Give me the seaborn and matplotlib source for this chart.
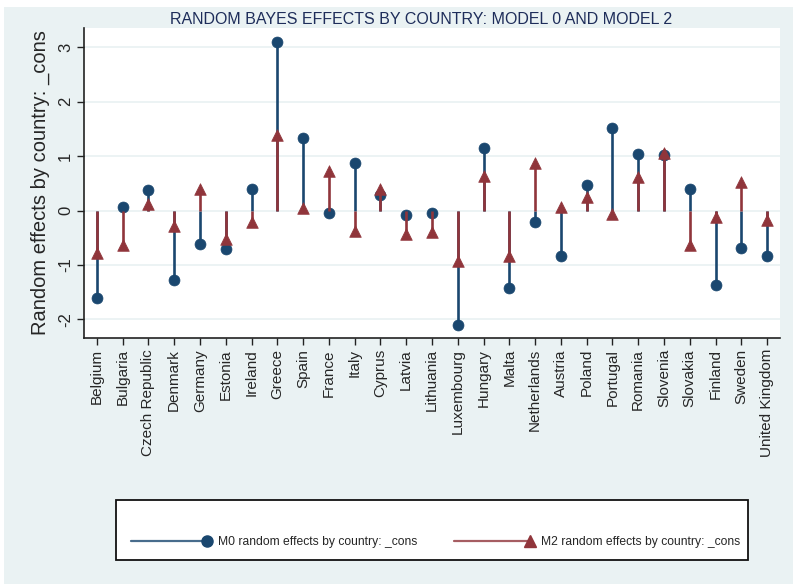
import matplotlib
matplotlib.use("Agg")
import matplotlib.pyplot as plt
import seaborn as sns
import pandas as pd
import numpy as np
from matplotlib.lines import Line2D
from matplotlib.patches import Rectangle
from matplotlib.legend_handler import HandlerLine2D

countries = ["Belgium", "Bulgaria", "Czech Republic", "Denmark", "Germany", "Estonia",
             "Ireland", "Greece", "Spain", "France", "Italy", "Cyprus", "Latvia",
             "Lithuania", "Luxembourg", "Hungary", "Malta", "Netherlands", "Austria",
             "Poland", "Portugal", "Romania", "Slovenia", "Slovakia", "Finland",
             "Sweden", "United Kingdom"]
m0_values = [-1.60, 0.07, 0.38, -1.27, -0.61, -0.71, 0.40, 3.10, 1.33, -0.04, 0.88,
             0.28, -0.09, -0.04, -2.10, 1.14, -1.42, -0.21, -0.84, 0.46, 1.51, 1.03,
             1.02, 0.39, -1.36, -0.68, -0.84]
m2_values = [-0.78, -0.64, 0.12, -0.28, 0.39, -0.52, -0.21, 1.38, 0.04, 0.72, -0.37,
             0.40, -0.43, -0.40, -0.92, 0.64, -0.83, 0.87, 0.06, 0.24, -0.06, 0.62,
             1.05, -0.64, -0.12, 0.53, -0.18]
y_ticks = [-2, -1, 0, 1, 2, 3]
label_m0 = "M0 random effects by country: _cons"
label_m2 = "M2 random effects by country: _cons"

NAVY = "#1A476F"
MAROON = "#90353B"
BG = "#EAF2F3"

sns.set_style("white")
plt.rcParams["font.family"] = ["Liberation Sans", "DejaVu Sans"]

df = pd.DataFrame({"country": countries, "m0": m0_values, "m2": m2_values})
df["pos"] = np.arange(len(df))


class EndMarkerHandler(HandlerLine2D):
    def create_artists(self, legend, orig_handle, xdescent, ydescent, width, height,
                       fontsize, trans):
        yc = height / 2 - ydescent
        line = Line2D([-xdescent, width - xdescent], [yc, yc],
                      color=orig_handle.get_color(), linewidth=orig_handle.get_linewidth(),
                      alpha=0.8)
        mk = Line2D([width - xdescent], [yc], linestyle="None",
                    marker=orig_handle.get_marker(), markersize=orig_handle.get_markersize(),
                    color=orig_handle.get_color())
        line.set_transform(trans)
        mk.set_transform(trans)
        return [line, mk]


fig = plt.figure(figsize=(7.93, 5.84), dpi=100, facecolor="white")
fig.patches.append(Rectangle((4 / 793, 0), 1, 1 - 7 / 584, transform=fig.transFigure,
                             facecolor=BG, edgecolor="none", zorder=-10))
ax = fig.add_axes([84 / 793, 1 - 338 / 584, (780 - 84) / 793, (338 - 28) / 584])
ax.set_facecolor("white")

# stems and markers
ax.vlines(df["pos"], 0, df["m0"], color=NAVY, linewidth=1.9, zorder=2)
sns.scatterplot(data=df, x="pos", y="m0", ax=ax, color=NAVY, marker="o", s=62,
                edgecolor=NAVY, linewidth=0.5, zorder=3, legend=False)
ax.vlines(df["pos"], 0, df["m2"], color=MAROON, linewidth=1.9, zorder=4)
sns.scatterplot(data=df, x="pos", y="m2", ax=ax, color=MAROON, marker="^", s=70,
                edgecolor=MAROON, linewidth=0.5, zorder=5, legend=False)

ax.set_xlim(-0.5, len(df) - 0.5)
ax.set_ylim(-2.34, 3.35)
ax.set_yticks(y_ticks)
ax.set_yticklabels([str(t) for t in y_ticks], rotation=90, va="center", fontsize=12)
ax.set_xticks(df["pos"])
ax.set_xticklabels(df["country"], rotation=90, fontsize=11)
ax.yaxis.grid(True, color=BG, linewidth=1.3)
ax.xaxis.grid(False)
ax.set_axisbelow(True)
for s in ["top", "right"]:
    ax.spines[s].set_visible(False)
for s in ["left", "bottom"]:
    ax.spines[s].set_color("#222222")
    ax.spines[s].set_linewidth(1.2)
ax.tick_params(axis="both", direction="out", length=5, width=1.0, color="#222222",
               left=True, bottom=True, pad=3)
ax.set_xlabel("COUNTRY", fontsize=11.2, labelpad=40)
ax.set_ylabel("Random effects by country: _cons", fontsize=14.5, labelpad=6)
fig.text(0.5 * (170 + 673) / 793, 1 - 19 / 584,
         "RANDOM BAYES EFFECTS BY COUNTRY: MODEL 0 AND MODEL 2",
         ha="center", va="center", fontsize=11.5, color="#1E2D5A")

# legend frame
fig.patches.append(Rectangle((116 / 793, 1 - 560 / 584), (748 - 116) / 793, 60 / 584,
                             transform=fig.transFigure, facecolor="white",
                             edgecolor="#111111", linewidth=1.3, zorder=1))
h0 = Line2D([], [], color=NAVY, linewidth=1.6, marker="o", markersize=8)
h2 = Line2D([], [], color=MAROON, linewidth=1.6, marker="^", markersize=8)
leg = fig.legend([h0, h2], [label_m0, label_m2], loc="center left",
                 bbox_to_anchor=(125 / 793, 1 - 542 / 584), ncol=2, frameon=False,
                 borderpad=0, handlelength=6.3, handletextpad=0.9, columnspacing=3.0,
                 handler_map={Line2D: EndMarkerHandler()},
                 prop={"size": 8.7})

fig.savefig("out.png", dpi=100, facecolor=fig.get_facecolor())
